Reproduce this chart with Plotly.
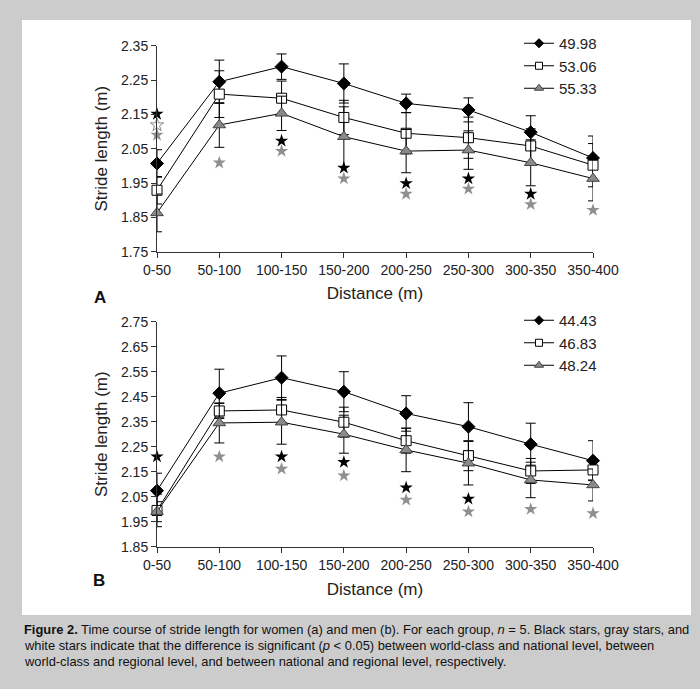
import plotly.graph_objects as go

categories = ["0-50", "50-100", "100-150", "150-200", "200-250", "250-300", "300-350", "350-400"]

# Panel A (women)
a_names = ["49.98", "53.06", "55.33"]
a_world = [2.007, 2.245, 2.289, 2.240, 2.182, 2.163, 2.098, 2.023]
a_world_sd = [0.040, 0.063, 0.037, 0.057, 0.027, 0.035, 0.048, 0.064]
a_nat = [1.929, 2.209, 2.197, 2.141, 2.095, 2.082, 2.058, 2.002]
a_nat_sd = [0.040, 0.068, 0.050, 0.050, 0.060, 0.060, 0.050, 0.063]
a_reg = [1.863, 2.119, 2.153, 2.085, 2.043, 2.046, 2.009, 1.963]
a_reg_sd = [0.055, 0.065, 0.050, 0.087, 0.063, 0.056, 0.067, 0.065]
a_star_black = [2.151, None, 2.073, 1.994, 1.949, 1.963, 1.918, None]
a_star_gray = [2.090, 2.009, 2.043, 1.963, 1.918, 1.933, 1.888, 1.871]
a_star_white = [2.119, None, None, None, None, None, None, None]

# Panel B (men)
b_names = ["44.43", "46.83", "48.24"]
b_world = [2.074, 2.464, 2.526, 2.470, 2.383, 2.330, 2.260, 2.194]
b_world_sd = [0.070, 0.096, 0.087, 0.080, 0.071, 0.096, 0.084, 0.080]
b_nat = [1.995, 2.393, 2.397, 2.348, 2.274, 2.214, 2.153, 2.157]
b_nat_sd = [0.065, 0.030, 0.050, 0.060, 0.050, 0.060, 0.050, 0.040]
b_reg = [1.990, 2.345, 2.348, 2.300, 2.237, 2.184, 2.117, 2.097]
b_reg_sd = [0.040, 0.080, 0.088, 0.076, 0.087, 0.087, 0.071, 0.064]
b_star_black = [2.210, None, 2.210, 2.188, 2.086, 2.041, None, None]
b_star_gray = [None, 2.210, 2.161, 2.134, 2.037, 1.990, 2.000, 1.983]

a_ticks = [1.75, 1.85, 1.95, 2.05, 2.15, 2.25, 2.35]
b_ticks = [1.85, 1.95, 2.05, 2.15, 2.25, 2.35, 2.45, 2.55, 2.65, 2.75]

caption_lines = [
    "<b>Figure 2.</b> Time course of stride length for women (a) and men (b). For each group, <i>n</i> = 5. Black stars, gray stars, and",
    "white stars indicate that the difference is significant (<i>p</i> &lt; 0.05) between world-class and national level, between",
    "world-class and regional level, and between national and regional level, respectively.",
]

W, H = 700, 689
FONT = "Liberation Sans, Arial, sans-serif"

def px(x):
    return x / W

def py(y):
    return 1 - y / H

styles = [
    dict(symbol="diamond", size=10, color="black", line=dict(color="black", width=1)),
    dict(symbol="square", size=10, color="white", line=dict(color="black", width=1)),
    dict(symbol="triangle-up", size=11, color="#8a8a8a", line=dict(color="#444", width=1)),
]
legend_sizes = [7, 7, 8]

fig = go.Figure()

def add_panel(xa, ya, legend, names, series, sds, stars):
    for name, ys, sd, st in zip(names, series, sds, styles):
        fig.add_trace(go.Scatter(
            x=categories, y=ys, name=name, mode="lines+markers", showlegend=False,
            line=dict(color="black", width=1), marker=st,
            error_y=dict(type="data", array=sd, visible=True, color="black", thickness=1, width=5),
            xaxis=xa, yaxis=ya, cliponaxis=False,
        ))
    # legend entries with the smaller legend symbols of the original
    for name, st, sz in zip(names, styles, legend_sizes):
        fig.add_trace(go.Scatter(
            x=[None], y=[None], name=name, mode="lines+markers",
            line=dict(color="black", width=1), marker=dict(st, size=sz),
            xaxis=xa, yaxis=ya, legend=legend,
        ))
    for ys, col, lc in stars:
        fig.add_trace(go.Scatter(
            x=categories, y=ys, mode="markers", showlegend=False, hoverinfo="skip",
            marker=dict(symbol="star", size=10, color=col, line=dict(color=lc, width=1 if col == "white" else 0)),
            xaxis=xa, yaxis=ya, cliponaxis=False,
        ))

add_panel("x", "y", "legend", a_names, [a_world, a_nat, a_reg], [a_world_sd, a_nat_sd, a_reg_sd],
          [(a_star_black, "black", "black"), (a_star_white, "white", "#8a8a8a"), (a_star_gray, "#8f8f8f", "#8f8f8f")])
add_panel("x2", "y2", "legend2", b_names, [b_world, b_nat, b_reg], [b_world_sd, b_nat_sd, b_reg_sd],
          [(b_star_black, "black", "black"), (b_star_gray, "#8f8f8f", "#8f8f8f")])

x_dom = [px(157), px(593)]
axis_common = dict(showline=True, linecolor="#333", linewidth=1, ticks="outside", ticklen=5,
                   tickcolor="#333", showgrid=False, zeroline=False,
                   tickfont=dict(family=FONT, size=14, color="#222"))

fig.update_layout(
    width=W, height=H, margin=dict(l=0, r=0, t=0, b=0, pad=0, autoexpand=False),
    paper_bgcolor="rgb(204,204,204)", plot_bgcolor="white",
    font=dict(family=FONT, color="#222"),
    xaxis=dict(domain=x_dom, anchor="y", type="category", categoryorder="array", categoryarray=categories,
               range=[0, 7], title=dict(text="Distance (m)", font=dict(size=17), standoff=10), **axis_common),
    yaxis=dict(domain=[py(251.7), py(45.7)], anchor="x", range=[1.75, 2.35], tickvals=a_ticks,
               ticktext=[f"{v:.2f}" for v in a_ticks],
               title=dict(text="Stride length (m)", font=dict(size=17), standoff=8), **axis_common),
    xaxis2=dict(domain=x_dom, anchor="y2", type="category", categoryorder="array", categoryarray=categories,
                range=[0, 7], title=dict(text="Distance (m)", font=dict(size=17), standoff=11), **axis_common),
    yaxis2=dict(domain=[py(546.7), py(321.7)], anchor="x2", range=[1.85, 2.75], tickvals=b_ticks,
                ticktext=[f"{v:.2f}" for v in b_ticks],
                title=dict(text="Stride length (m)", font=dict(size=17), standoff=8), **axis_common),
    legend=dict(x=px(519), y=py(27), xanchor="left", yanchor="top", bgcolor="rgba(0,0,0,0)",
                font=dict(family=FONT, size=15, color="#222"), tracegroupgap=0),
    legend2=dict(x=px(519), y=py(304), xanchor="left", yanchor="top", bgcolor="rgba(0,0,0,0)",
                 font=dict(family=FONT, size=15, color="#222"), tracegroupgap=0),
    showlegend=True,
)

fig.add_shape(type="rect", xref="paper", yref="paper", x0=px(22), x1=px(691), y0=py(615), y1=py(20),
              fillcolor="white", line=dict(width=0), layer="below")

fig.add_annotation(text="<b>A</b>", xref="paper", yref="paper", x=px(92), y=py(297), showarrow=False,
                   font=dict(family=FONT, size=17, color="#111"))
fig.add_annotation(text="<b>B</b>", xref="paper", yref="paper", x=px(91), y=py(592), showarrow=False,
                   font=dict(family=FONT, size=17, color="#111"))

for i, line in enumerate(caption_lines):
    fig.add_annotation(text=line, xref="paper", yref="paper", x=px(22), y=py(629 + 16 * i),
                       xanchor="left", yanchor="middle", showarrow=False, align="left",
                       font=dict(family=FONT, size=12.9, color="#111"))

fig.write_html("out.html", config={"displayModeBar": False},
               post_script="document.body.style.margin='0px';")
